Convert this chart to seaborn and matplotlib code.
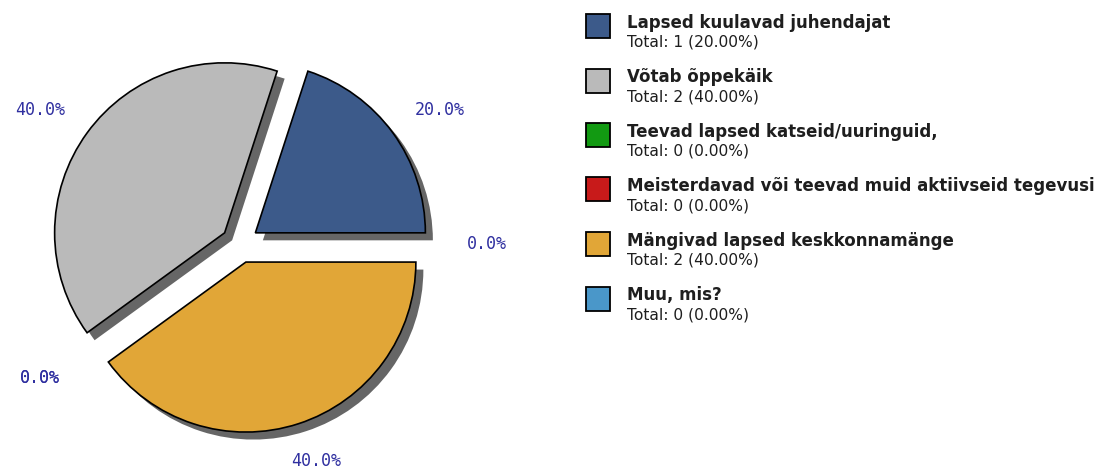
import numpy as np
import matplotlib
matplotlib.use("Agg")
import matplotlib.pyplot as plt
from matplotlib.patches import Rectangle
import seaborn as sns

sns.set_theme(style="white")
plt.rcParams["font.family"] = ["DejaVu Sans"]

# data
categories = [
    "Lapsed kuulavad juhendajat",
    "Võtab õppekäik",
    "Teevad lapsed katseid/uuringuid,",
    "Meisterdavad või teevad muid aktiivseid tegevusi",
    "Mängivad lapsed keskkonnamänge",
    "Muu, mis?",
]
counts = [1, 2, 0, 0, 2, 0]
colors = ["#3c5a8a", "#bababa", "#129a12", "#c81a1a", "#e1a637", "#4a97c9"]
palette = sns.color_palette(colors)

W, H = 1100, 472
fig = plt.figure(figsize=(W / 100, H / 100), dpi=100)

# pie axes in pixel units
ax = fig.add_axes([0, 0, 500 / W, 1])

center = (240, H - 244)
radius = 170
explode = [19] * len(counts)
total = sum(counts)

# shadow
sh, _ = ax.pie(counts, radius=radius, center=(center[0] + 7.5, center[1] - 7.5),
               explode=explode, colors=["#666666"] * len(counts),
               wedgeprops=dict(linewidth=0), frame=True)
for w, c in zip(sh, counts):
    w.set_zorder(1)
    if c == 0:
        w.set_visible(False)

wedges, texts = ax.pie(
    counts, radius=radius, center=center, explode=explode, colors=palette,
    labels=[f"{100 * c / total:.1f}%" for c in counts],
    wedgeprops=dict(edgecolor="black", linewidth=1.2), frame=True,
    textprops=dict(family="DejaVu Sans Mono", fontsize=12, color="#3030a0"),
)
for w, c in zip(wedges, counts):
    w.set_zorder(2)
    if c == 0:
        w.set_visible(False)

# labels sit on a slightly flattened ellipse around the pie
for w, t in zip(wedges, texts):
    th = np.deg2rad((w.theta1 + w.theta2) / 2)
    t.set_position((center[0] + 247 * np.cos(th), center[1] + 228 * np.sin(th)))
    t.set_ha("center")
    t.set_va("center")

ax.set_xlim(0, 500)
ax.set_ylim(0, H)
ax.axis("off")

# legend
for i, (name, c, col) in enumerate(zip(categories, counts, colors)):
    top = 14 + 54.5 * i
    fig.patches.append(Rectangle((586 / W, 1 - (top + 24) / H), 24 / W, 24 / H,
                                 transform=fig.transFigure, facecolor=col,
                                 edgecolor="black", linewidth=1.3))
    fig.text(627 / W, 1 - (27.7 + 54.5 * i) / H, name, fontsize=12,
             fontweight="bold", color="#1e1e1e", va="baseline", ha="left")
    fig.text(627 / W, 1 - (46.7 + 54.5 * i) / H,
             f"Total: {c} ({100 * c / total:.2f}%)", fontsize=11.2,
             color="#1e1e1e", va="baseline", ha="left")

fig.savefig("out.png", dpi=100)
